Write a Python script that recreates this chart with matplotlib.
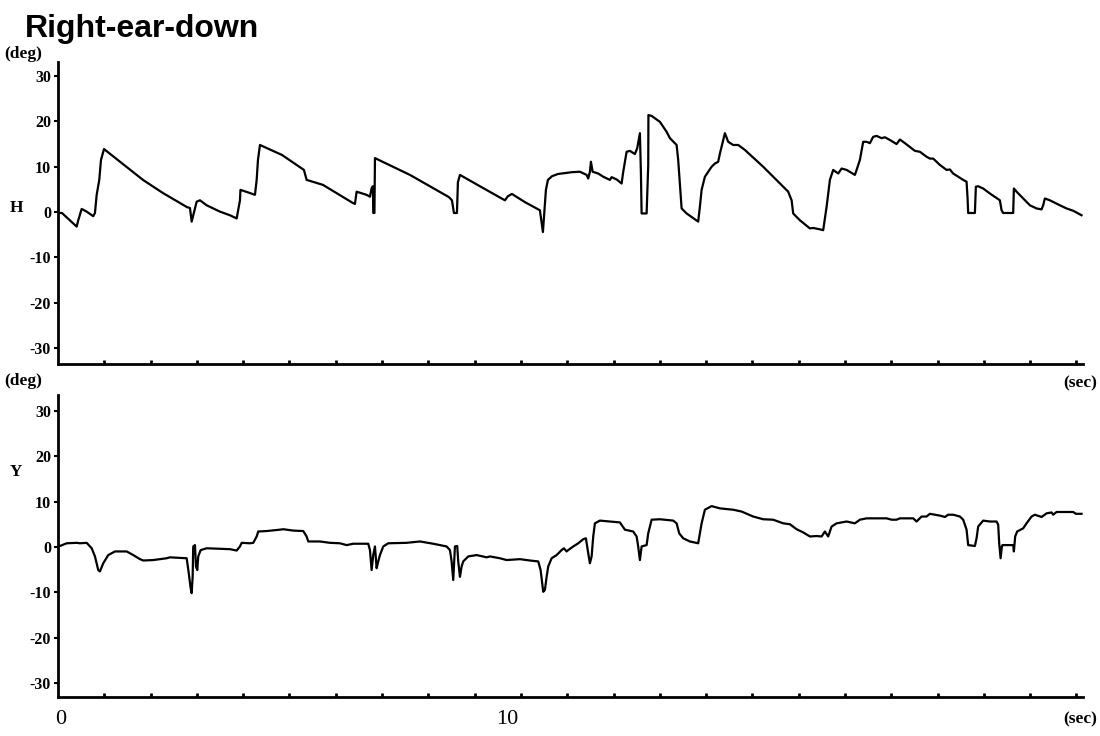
import matplotlib
matplotlib.use("Agg")
import matplotlib.pyplot as plt
import numpy as np

# time (sec) and head angle H (deg)
t_h = [0, 0.086, 0.404, 0.438, 0.512, 0.620, 0.762, 0.799, 0.836, 0.892, 0.929, 0.994,
       1.836, 2.268, 2.786, 2.851, 2.888, 2.996, 3.067, 3.212, 3.499, 3.715, 3.860, 3.931,
       3.942, 4.147, 4.255, 4.292, 4.320, 4.363, 4.838, 5.313, 5.371, 5.724, 6.371, 6.415,
       6.451, 6.667, 6.739, 6.775, 6.803, 6.810, 6.836, 6.847, 7.603, 8.035, 8.445, 8.510,
       8.553, 8.618, 8.639, 8.683, 9.114, 9.654, 9.719, 9.806, 10.086, 10.410, 10.475, 10.540,
       10.583, 10.670, 10.799, 10.950, 11.102, 11.274, 11.419, 11.454, 11.490, 11.512, 11.549, 11.670,
       11.778, 11.922, 11.959, 12.067, 12.175, 12.210, 12.283, 12.354, 12.462, 12.512, 12.570, 12.592,
       12.607, 12.715, 12.750, 12.754, 12.823, 13.002, 13.147, 13.218, 13.363, 13.397, 13.471, 13.579,
       13.829, 13.866, 13.903, 13.974, 14.119, 14.190, 14.261, 14.298, 14.406, 14.477, 14.585, 14.693,
       14.838, 15.233, 15.594, 15.773, 15.847, 15.881, 16.026, 16.242, 16.313, 16.458, 16.529, 16.603,
       16.674, 16.745, 16.853, 16.927, 17.035, 17.214, 17.251, 17.322, 17.393, 17.467, 17.538, 17.609,
       17.683, 17.790, 17.862, 17.970, 18.114, 18.186, 18.294, 18.510, 18.618, 18.762, 18.834, 18.905,
       19.050, 19.194, 19.266, 19.337, 19.553, 19.626, 19.648, 19.661, 19.806, 19.827, 19.877, 19.985,
       20.130, 20.346, 20.382, 20.417, 20.633, 20.648, 20.706, 20.849, 20.994, 21.138, 21.246, 21.281,
       21.317, 21.425, 21.641, 21.786, 21.929, 22.110]
h_deg = [-0.2, -0.2, -3.2, -1.8, 0.7, 0.1, -0.9, -0.2, 3.8, 7.1, 11.5, 13.9,
         7.1, 4.2, 1.1, 0.9, -2.1, 2.3, 2.6, 1.5, 0.1, -0.7, -1.4, 2.6,
         4.9, 4.2, 3.8, 7.1, 11.5, 14.8, 12.6, 9.3, 7.1, 6.0, 2.0, 1.8,
         4.5, 3.8, 3.4, 5.3, 5.7, -0.2, -0.2, 11.9, 8.2, 5.7, 3.3, 2.6,
         -0.2, -0.2, 6.6, 8.2, 5.7, 2.6, 3.5, 4.0, 2.2, 0.4, -4.4, 4.9,
         7.1, 7.9, 8.4, 8.6, 8.8, 8.9, 8.2, 7.4, 8.9, 11.1, 8.9, 8.5,
         7.8, 7.1, 7.7, 7.2, 6.3, 8.9, 13.3, 13.5, 12.8, 14.1, 17.4, 8.5,
         -0.3, -0.3, 10.4, 21.4, 21.2, 19.9, 17.7, 16.3, 14.8, 11.5, 0.8, -0.3,
         -2.1, 1.2, 4.9, 7.8, 10.0, 10.7, 11.1, 12.9, 17.4, 15.5, 14.8, 14.8,
         13.7, 10.0, 6.3, 4.5, 2.6, -0.3, -1.8, -3.6, -3.5, -3.8, -4.0, 1.2,
         7.1, 9.3, 8.5, 9.6, 9.3, 8.2, 9.3, 11.5, 15.5, 15.5, 15.2, 16.6,
         16.8, 16.3, 16.5, 15.9, 15.0, 16.0, 15.2, 13.5, 13.3, 12.2, 11.8, 11.8,
         10.4, 9.3, 9.4, 8.5, 7.1, 6.7, 3.0, -0.2, -0.2, 5.6, 5.7, 5.2,
         4.1, 2.6, 0.4, -0.2, -0.2, 5.2, 4.5, 3.0, 1.5, 0.8, 0.6, 1.5,
         3.0, 2.6, 1.5, 0.8, 0.3, -0.7]

# time (sec) and Y (deg)
t_y = [0, 0.043, 0.188, 0.404, 0.475, 0.620, 0.728, 0.799, 0.870, 0.907, 0.978, 1.086,
       1.231, 1.484, 1.626, 1.771, 1.842, 2.058, 2.348, 2.419, 2.780, 2.816, 2.866, 2.888,
       2.909, 2.922, 2.959, 2.981, 3.009, 3.030, 3.082, 3.212, 3.715, 3.860, 3.931, 3.968,
       4.147, 4.218, 4.292, 4.326, 4.508, 4.795, 4.866, 5.082, 5.298, 5.371, 5.406, 5.659,
       5.875, 6.091, 6.235, 6.378, 6.702, 6.739, 6.775, 6.810, 6.847, 6.883, 6.918, 6.955,
       7.026, 7.134, 7.531, 7.819, 8.106, 8.395, 8.467, 8.503, 8.538, 8.575, 8.624, 8.646,
       8.683, 8.719, 8.754, 8.862, 9.043, 9.259, 9.330, 9.546, 9.691, 9.978, 10.194, 10.374,
       10.425, 10.482, 10.518, 10.555, 10.590, 10.663, 10.771, 10.879, 10.929, 10.987, 11.022, 11.130,
       11.238, 11.346, 11.404, 11.454, 11.490, 11.527, 11.562, 11.598, 11.706, 11.922, 12.138, 12.246,
       12.425, 12.499, 12.533, 12.570, 12.607, 12.715, 12.750, 12.823, 13.002, 13.290, 13.363, 13.419,
       13.505, 13.650, 13.829, 13.903, 13.974, 14.119, 14.190, 14.298, 14.585, 14.767, 15.017, 15.233,
       15.449, 15.665, 15.810, 15.955, 16.097, 16.242, 16.387, 16.495, 16.566, 16.637, 16.711, 16.819,
       17.035, 17.214, 17.322, 17.467, 17.898, 18.006, 18.114, 18.186, 18.473, 18.546, 18.654, 18.762,
       18.834, 19.050, 19.158, 19.229, 19.337, 19.482, 19.553, 19.626, 19.661, 19.806, 19.842, 19.877,
       19.985, 20.130, 20.274, 20.309, 20.331, 20.361, 20.389, 20.404, 20.633, 20.648, 20.676, 20.719,
       20.849, 20.922, 21.030, 21.102, 21.246, 21.354, 21.462, 21.497, 21.570, 21.929, 21.987, 22.110]
y_deg = [0.2, 0.2, 0.8, 0.9, 0.8, 0.9, -0.3, -2.1, -5.1, -5.4, -3.6, -1.8,
         -1.0, -1.0, -1.8, -2.7, -3.0, -2.9, -2.5, -2.3, -2.5, -5.1, -9.1, -10.2,
         -6.6, 0.1, 0.4, -4.3, -5.1, -2.1, -0.7, -0.3, -0.5, -0.8, 0.1, 0.9,
         0.8, 0.9, 2.3, 3.4, 3.5, 3.8, 3.9, 3.6, 3.5, 2.3, 1.2, 1.2,
         0.9, 0.8, 0.4, 0.7, 0.7, -0.7, -5.1, -1.8, 0.1, -4.7, -3.2, -1.8,
         0.1, 0.8, 0.9, 1.2, 0.7, 0.1, -0.7, -3.2, -7.3, 0.1, 0.2, -3.2,
         -6.6, -4.3, -3.2, -2.1, -1.8, -2.3, -2.1, -2.5, -2.9, -2.7, -3.0, -3.2,
         -5.1, -9.9, -9.5, -6.6, -4.3, -2.5, -1.8, -0.7, -0.3, -1.0, -0.7, 0.1,
         0.8, 1.7, 1.9, -1.4, -3.6, -2.1, 2.3, 5.2, 5.8, 5.6, 5.4, 3.8,
         3.4, 2.3, 0.1, -2.9, 0.1, 0.4, 3.0, 6.0, 6.1, 5.8, 5.2, 3.0,
         1.9, 1.2, 0.8, 5.2, 8.2, 9.0, 8.8, 8.5, 8.2, 7.8, 6.7, 6.1,
         6.0, 5.2, 5.0, 3.9, 3.2, 2.3, 2.4, 2.3, 3.4, 2.3, 4.5, 5.2,
         5.6, 5.2, 6.0, 6.3, 6.3, 6.0, 6.0, 6.3, 6.3, 5.6, 6.7, 6.7,
         7.3, 6.9, 6.6, 7.1, 7.1, 6.7, 6.0, 3.8, 0.4, 0.2, 1.9, 4.5,
         5.8, 5.6, 5.6, 4.9, 0.8, -2.5, 0.1, 0.4, 0.4, -1.0, 2.3, 3.4,
         4.1, 5.2, 6.7, 7.1, 6.6, 7.4, 7.6, 7.1, 7.7, 7.7, 7.3, 7.3]

yticks = [-30, -20, -10, 0, 10, 20, 30]
xticks = np.arange(1, 23)

serif = "Liberation Serif"
sans = "Liberation Sans"

fig = plt.figure(figsize=(11, 7.36), dpi=100)
ax1 = fig.add_axes([0.0527, 0.5054, 0.9318, 0.4104])
ax2 = fig.add_axes([0.0527, 0.0530, 0.9318, 0.4103])

def setup(ax, ylo, yhi):
    ax.set_xlim(0, 22.14)
    ax.set_ylim(ylo, yhi)
    for s in ["top", "right"]:
        ax.spines[s].set_visible(False)
    for s in ["left", "bottom"]:
        ax.spines[s].set_linewidth(2)
    ax.set_yticks(yticks)
    ax.set_yticklabels([str(v) for v in yticks], fontfamily=serif,
                       fontsize=11.5, fontweight="bold")
    ax.tick_params(axis="y", direction="out", length=3, width=1.5, pad=2)
    ax.set_xticks(xticks)
    ax.set_xticklabels([])
    ax.tick_params(axis="x", direction="in", length=3, width=2)

ax1.plot(t_h, h_deg, color="black", lw=1.6)
setup(ax1, -33.5, 33.1)
ax2.plot(t_y, y_deg, color="black", lw=1.6)
setup(ax2, -33.1, 33.5)

fig.text(25/1100, 1-37/736, "Right-ear-down", fontfamily=sans, fontsize=23,
         fontweight="bold", va="baseline", ha="left")
lab = dict(fontfamily=serif, fontweight="bold", fontsize=12.5, va="center")
fig.text(4/1100, 1-54/736, "(deg)", ha="left", **lab)
fig.text(4/1100, 1-381/736, "(deg)", ha="left", **lab)
fig.text(1097/1100, 1-383/736, "(sec)", ha="right", **lab)
fig.text(1097/1100, 1-719/736, "(sec)", ha="right", **lab)
fig.text(10/1100, 1-208/736, "H", ha="left", **lab)
fig.text(10/1100, 1-472/736, "Y", ha="left", **lab)
fig.text(61/1100, 1-719/736, "0", ha="center", va="center",
         fontfamily=serif, fontsize=16)
fig.text(507/1100, 1-719/736, "10", ha="center", va="center",
         fontfamily=serif, fontsize=16)

fig.savefig("out.png", dpi=100)
